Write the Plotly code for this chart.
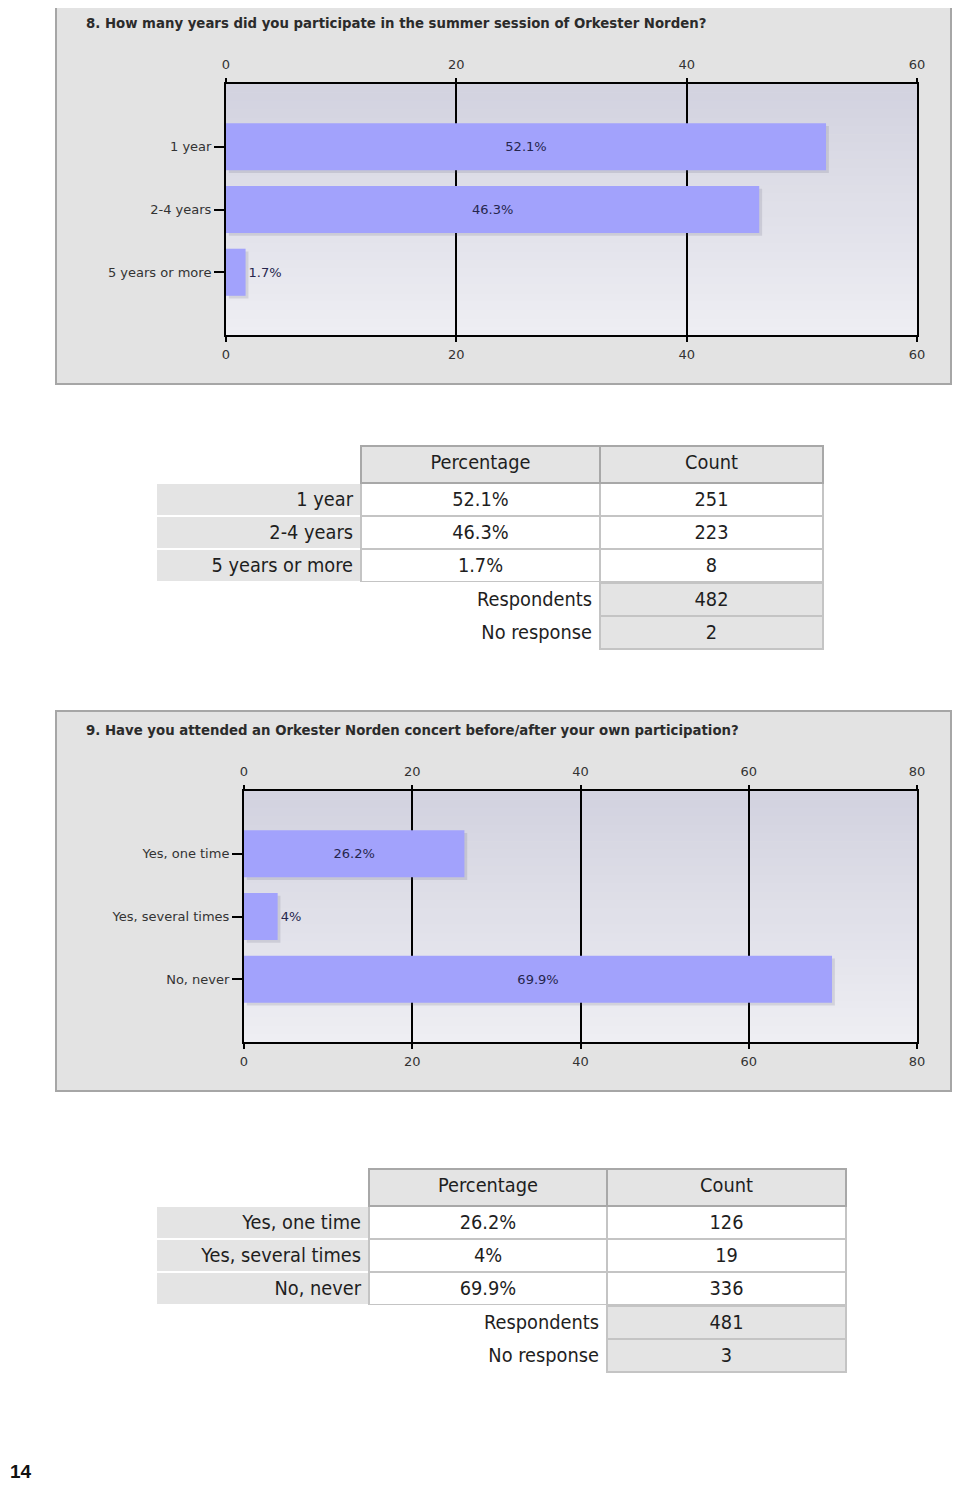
import plotly.graph_objects as go

# page is 960x1492; the html body keeps its 8px margin, so the figure sits at (8, 8)
OFF = 8
W, H = 944, 1476

# ---- question 8 ----
q8_title = "8. How many years did you participate in the summer session of Orkester Norden?"
q8_answers = ["1 year", "2-4 years", "5 years or more"]
q8_pct = [52.1, 46.3, 1.7]
q8_pct_text = ["52.1%", "46.3%", "1.7%"]
q8_count = [251, 223, 8]
q8_respondents = 482
q8_no_response = 2
q8_ticks = [0, 20, 40, 60]

# ---- question 9 ----
q9_title = "9. Have you attended an Orkester Norden concert before/after your own participation?"
q9_answers = ["Yes, one time", "Yes, several times", "No, never"]
q9_pct = [26.2, 4, 69.9]
q9_pct_text = ["26.2%", "4%", "69.9%"]
q9_count = [126, 19, 336]
q9_respondents = 481
q9_no_response = 3
q9_ticks = [0, 20, 40, 60, 80]

page_number = "14"

BAR = "#a2a2fc"
BOX = "#e3e3e3"
CELL_GRAY = "#e4e4e4"
LABEL_FONT = dict(family="DejaVu Sans", size=13, color="#333333")
TABLE_FONT = dict(family="DejaVu Sans Condensed, Liberation Sans, sans-serif", size=19.8, color="#1e1e1e")


def px_x(v):
    return (v - OFF) / W


def px_y(v):
    return 1 - (v - OFF) / H


fig = go.Figure()
shapes = []
annotations = []


def add_chart(n, title, answers, pct, pct_text, ticks, box, plot):
    # box = (x0, y0, x1, y1) of grey panel, plot = (x0, y0, x1, y1) of plot area, page px
    xa = "x" if n == 1 else f"x{n}"
    ya = "y" if n == 1 else f"y{n}"
    xt = f"x{n + 2}"
    # grey panel (kept inside the figure so its right border stays visible)
    right = min(box[2], OFF + W - 1)
    shapes.append(dict(type="rect", xref="paper", yref="paper", layer="below",
                       x0=px_x(box[0]), x1=px_x(right), y0=px_y(box[1]), y1=px_y(box[3]),
                       fillcolor=BOX, line=dict(color="#a6a6a6", width=2)))
    # gradient plot background
    nb = 30
    for i in range(nb):
        t = i / (nb - 1)
        r = int(211 + (238 - 211) * t)
        b = int(224 + (243 - 224) * t)
        shapes.append(dict(type="rect", xref=f"{xa} domain", yref=f"{ya} domain", layer="below",
                           x0=0, x1=1, y0=1 - i / nb, y1=1 - (i + 1) / nb - 0.002,
                           fillcolor=f"rgb({r},{r},{b})", line=dict(width=0)))
    annotations.append(dict(xref="paper", yref="paper", x=px_x(box[0] + 28), y=px_y(box[1] + 20),
                            xanchor="left", yanchor="middle", showarrow=False, text=title,
                            font=dict(family="DejaVu Sans", size=13.3, color="#2b2b2b", weight="bold")))

    # soft shadow behind bars
    fig.add_trace(go.Bar(y=answers, x=pct, orientation="h", xaxis=xa, yaxis=ya,
                         marker=dict(color="rgba(90,90,110,0.16)", line=dict(width=0)),
                         width=0.75, offset=-0.33, base=0.25 * ticks[-1] / 60,
                         hoverinfo="skip", showlegend=False))
    positions = ["inside" if p > 10 else "outside" for p in pct]
    fig.add_trace(go.Bar(y=answers, x=pct, orientation="h", xaxis=xt, yaxis=ya,
                         marker=dict(color=BAR, line=dict(width=0)),
                         width=0.75, offset=-0.375,
                         text=pct_text, textposition=positions, insidetextanchor="middle",
                         textfont=dict(family="DejaVu Sans", size=13, color="#26264d"),
                         cliponaxis=False, showlegend=False))

    dom_x = [px_x(plot[0]), px_x(plot[2])]
    dom_y = [px_y(plot[3]), px_y(plot[1])]
    common = dict(range=[0, ticks[-1]], tickvals=ticks, tickfont=LABEL_FONT,
                  ticks="outside", ticklen=5, tickwidth=2, tickcolor="black",
                  zeroline=False, fixedrange=True, automargin=False)
    fig.update_layout(**{
        ("xaxis" if n == 1 else f"xaxis{n}"): dict(
            domain=dom_x, anchor=ya, side="bottom", showgrid=True, gridcolor="black",
            gridwidth=2, showline=True, linecolor="black", linewidth=2, mirror=True,
            ticklabelstandoff=1, **common),
        f"xaxis{n + 2}": dict(
            overlaying=xa, matches=xa, anchor=ya, side="top", showgrid=False,
            showline=False, ticklabelstandoff=4, **common),
        ("yaxis" if n == 1 else f"yaxis{n}"): dict(
            domain=dom_y, anchor=xa, type="category", categoryarray=answers,
            range=[len(answers), -1], showgrid=False, showline=True, linecolor="black",
            linewidth=2, mirror=True, ticks="outside", ticklen=10, tickwidth=1.5,
            tickcolor="black", tickfont=LABEL_FONT, ticklabelstandoff=0, fixedrange=True,
            automargin=False),
    })


add_chart(1, q8_title, q8_answers, q8_pct, q8_pct_text, q8_ticks,
          box=(56, 4, 958, 384), plot=(226, 84, 917, 335))
add_chart(2, q9_title, q9_answers, q9_pct, q9_pct_text, q9_ticks,
          box=(56, 711, 958, 1091), plot=(244, 791, 917, 1042))


def add_table(answers, pct_text, count, respondents, no_response, left, top, widths):
    k = len(answers)
    total = sum(widths)
    bottom = top + 37 + 33 * k
    # answers block
    fig.add_trace(go.Table(
        domain=dict(x=[px_x(left), px_x(left + total)], y=[px_y(bottom + 2), px_y(top)]),
        columnwidth=widths,
        header=dict(values=["", "Percentage", "Count"], height=37,
                    fill_color=["white", CELL_GRAY, CELL_GRAY],
                    line=dict(color=["white", "#a8a8a8", "#a8a8a8"], width=2),
                    align="center", font=TABLE_FONT),
        cells=dict(values=[answers, pct_text, [str(c) for c in count]], height=33,
                   fill_color=[CELL_GRAY, "white", "white"],
                   line=dict(color=["white", "#c4c4c4", "#c4c4c4"], width=2),
                   align=["right", "center", "center"], font=TABLE_FONT),
    ))
    # respondents / no response block
    fig.add_trace(go.Table(
        domain=dict(x=[px_x(left), px_x(left + total)], y=[px_y(bottom + 1 + 66 + 2), px_y(bottom + 1)]),
        columnwidth=[widths[0] + widths[1], widths[2]],
        header=dict(values=["Respondents", str(respondents)], height=33,
                    fill_color=["white", CELL_GRAY],
                    line=dict(color=["white", "#c4c4c4"], width=2),
                    align=["right", "center"], font=TABLE_FONT),
        cells=dict(values=[["No response"], [str(no_response)]], height=33,
                   fill_color=["white", CELL_GRAY],
                   line=dict(color=["white", "#c4c4c4"], width=2),
                   align=["right", "center"], font=TABLE_FONT),
    ))


add_table(q8_answers, q8_pct_text, q8_count, q8_respondents, q8_no_response,
          left=156, top=446, widths=[205, 239, 223])
add_table(q9_answers, q9_pct_text, q9_count, q9_respondents, q9_no_response,
          left=156, top=1169, widths=[213, 238, 239])

annotations.append(dict(xref="paper", yref="paper", x=0, y=0, xanchor="left",
                        yanchor="bottom", showarrow=False, text=page_number,
                        font=dict(family="Liberation Sans", size=19, color="#111111", weight="bold")))

fig.update_layout(
    width=W, height=H, margin=dict(l=0, r=0, t=0, b=0, pad=0), autosize=False,
    paper_bgcolor="white", plot_bgcolor="rgba(0,0,0,0)",
    barmode="overlay", showlegend=False,
    shapes=shapes, annotations=annotations,
)

fig.write_html("out.html")
